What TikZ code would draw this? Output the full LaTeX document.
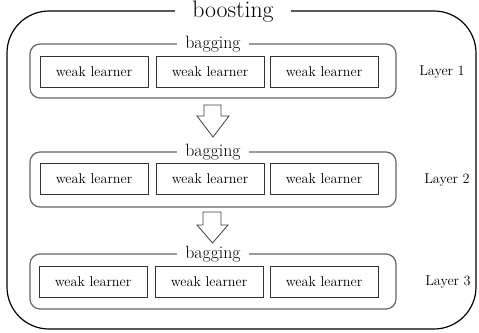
\documentclass[tikz,border=0pt]{standalone}
\usepackage{fontspec}
\begin{document}
\begin{tikzpicture}[x=1pt,y=-1pt,
  outerbox/.style={draw=black,line width=1.2pt,rounded corners=42pt},
  bagbox/.style={draw=black!60,line width=1.2pt,rounded corners=10pt},
  learner/.style={draw=black!80,line width=0.9pt,minimum width=108pt,minimum height=31pt,inner sep=0pt,font=\fontsize{14.2}{16}\selectfont,text=black},
  baglabel/.style={fill=white,inner xsep=8pt,inner ysep=1pt,font=\fontsize{17.8}{20}\selectfont,text=black},
  boostlabel/.style={fill=white,inner xsep=17pt,inner ysep=1pt,font=\fontsize{23.8}{26}\selectfont,text=black},
  layerlabel/.style={font=\fontsize{14.2}{16}\selectfont,text=black},
  bigarrow/.style={draw=black!75,fill=white,line width=0.8pt,line join=miter}
]
\useasboundingbox (0,0) rectangle (479,332);
% outer boosting box
\draw[outerbox] (7,11) rectangle (476,329);
\node[boostlabel] (boost) at (233,12) {boosting};

% Layer 1
\draw[bagbox] (30,44) rectangle (396,98);
\node[baglabel] (bag1) at (213,44) {bagging};
\node[learner] (w11) at (94,71.5) {weak learner};
\node[learner] (w12) at (210,71.5) {weak learner};
\node[learner] (w13) at (324,71.5) {weak learner};
\node[layerlabel] (l1) at (442,72) {Layer 1};

% Layer 2
\draw[bagbox] (30,152) rectangle (396,207);
\node[baglabel] (bag2) at (213,152) {bagging};
\node[learner] (w21) at (94,179) {weak learner};
\node[learner] (w22) at (210,179) {weak learner};
\node[learner] (w23) at (324,179) {weak learner};
\node[layerlabel] (l2) at (447,180) {Layer 2};

% Layer 3
\draw[bagbox] (30,254) rectangle (396,309);
\node[baglabel] (bag3) at (213,254) {bagging};
\node[learner] (w31) at (93,281.5) {weak learner};
\node[learner] (w32) at (209,281.5) {weak learner};
\node[learner] (w33) at (324,281.5) {weak learner};
\node[layerlabel] (l3) at (448,282) {Layer 3};

% block arrows
\draw[bigarrow] (204,105) -- (221,105) -- (221,116) -- (229,116) -- (213,137) -- (197,116) -- (204,116) -- cycle;
\draw[bigarrow] (203,212) -- (221,212) -- (221,225) -- (228,225) -- (212.5,243) -- (197,225) -- (203,225) -- cycle;
\end{tikzpicture}
\end{document}
